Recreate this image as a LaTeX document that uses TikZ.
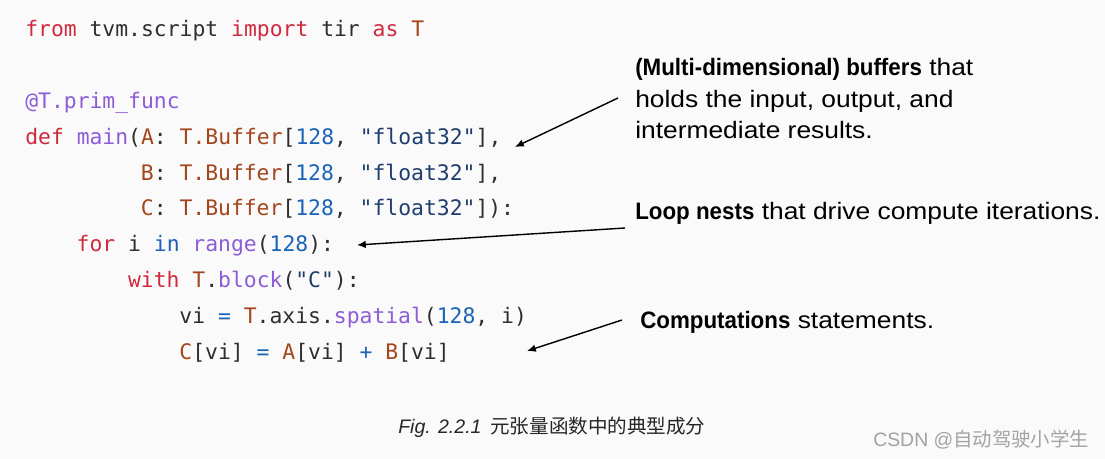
\documentclass[tikz,border=0pt]{standalone}
\usepackage{fontspec}
\usepackage{xcolor}
\usetikzlibrary{arrows.meta}
\setmainfont{Liberation Sans}
\newfontfamily\codefont{DejaVu Sans Mono}[Ligatures=TeXOff]
\newfontfamily\notefont{Liberation Sans}[FakeStretch=1.11, BoldFeatures={FakeStretch=0.94}]
\newfontfamily\cjkfont{Noto Sans CJK SC}

\definecolor{pagebg}{HTML}{FAFAFA}
\definecolor{codefg}{HTML}{2E2E2E}
\definecolor{kwred}{HTML}{D1293D}
\definecolor{fnpurple}{HTML}{8D5CD6}
\definecolor{tybrown}{HTML}{A3461C}
\definecolor{numblue}{HTML}{1A63B7}
\definecolor{strnavy}{HTML}{1F3D6E}
\definecolor{markgray}{HTML}{A3A3A3}

\newcommand{\ckw}[1]{\textcolor{kwred}{#1}}
\newcommand{\cfn}[1]{\textcolor{fnpurple}{#1}}
\newcommand{\cty}[1]{\textcolor{tybrown}{#1}}
\newcommand{\cnum}[1]{\textcolor{numblue}{#1}}
\newcommand{\cstr}[1]{\textcolor{strnavy}{#1}}

\tikzset{
  codeline/.style={anchor=base west, inner sep=0pt, text=codefg,
    font=\codefont\fontsize{15.2}{18}\selectfont},
  note/.style={anchor=base west, inner sep=0pt, text=black,
    font=\notefont\fontsize{16.9}{20}\selectfont},
  pointer/.style={line width=1pt, -{Latex[length=2.2mm,width=1.9mm]}}
}

\begin{document}
\begin{tikzpicture}[x=0.025cm, y=-0.025cm]
\fill[pagebg] (0,0) rectangle (1105,459);
\useasboundingbox (0,0) rectangle (1105,459);

% code
\node[codeline] (imp)   at (25,37)     {\ckw{from} tvm.script \ckw{import} tir \ckw{as} \cty{T}};
\node[codeline] (deco)  at (25,108.6)  {\cfn{@T.prim\_func}};
\node[codeline] (defA)  at (25,144.3)  {\ckw{def} \cfn{main}(\cty{A}: \cty{T.Buffer}[\cnum{128}, \cstr{"float32"}],};
\node[codeline] (argB)  at (140.65,180.1) {\cty{B}: \cty{T.Buffer}[\cnum{128}, \cstr{"float32"}],};
\node[codeline] (argC)  at (140.65,215.9) {\cty{C}: \cty{T.Buffer}[\cnum{128}, \cstr{"float32"}]):};
\node[codeline] (loop)  at (76.4,251.7)  {\ckw{for} i \cnum{in} \cfn{range}(\cnum{128}):};
\node[codeline] (blk)   at (127.8,287.5) {\ckw{with} \cty{T}.\cfn{block}(\cstr{"C"}):};
\node[codeline] (axis)  at (179.2,323.2) {vi \cnum{=} \cty{T}.axis.\cfn{spatial}(\cnum{128}, i)};
\node[codeline] (comp)  at (179.2,359)   {\cty{C}[vi] \cnum{=} \cty{A}[vi] \cnum{+} \cty{B}[vi]};

% notes
\node[note] (buf1) at (635,76)    {\textbf{(Multi-dimensional) buffers} that};
\node[note] (buf2) at (635,107.5) {holds the input, output, and};
\node[note] (buf3) at (635,139)   {intermediate results.};
\node[note] (nest) at (635,220)   {\textbf{Loop nests} that drive compute iterations.};
\node[note] (stmt) at (640,328)   {\textbf{Computations} statements.};

\coordinate (bufFrom)  at (618,98);
\coordinate (bufTo)    at (515,147);
\coordinate (nestFrom) at (625,228);
\coordinate (nestTo)   at (357,245);
\coordinate (stmtFrom) at (622,320);
\coordinate (stmtTo)   at (527,351);

\draw[pointer] (bufFrom) -- (bufTo);
\draw[pointer] (nestFrom) -- (nestTo);
\draw[pointer] (stmtFrom) -- (stmtTo);

% caption
\node[anchor=base west, inner sep=0pt, text=black!85, font=\fontsize{13.9}{16}\selectfont] (cap) at (398,433)
  {\textit{Fig. 2.2.1}\hspace{0.45em}{\cjkfont 元张量函数中的典型成分}};
\node[anchor=base west, inner sep=0pt, text=markgray, font=\fontsize{13.8}{16}\selectfont] (mark) at (873,446)
  {CSDN @{\cjkfont 自动驾驶小学生}};
\end{tikzpicture}
\end{document}
